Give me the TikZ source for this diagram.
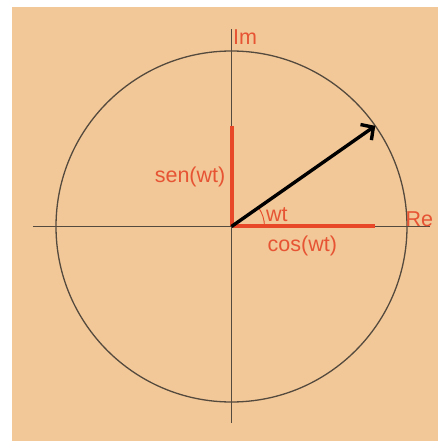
\documentclass[tikz,border=0pt]{standalone}
\usepackage{fontspec}
\setmainfont{Liberation Sans}
\usepackage{tikz}
\usepackage{xcolor}
\usetikzlibrary{arrows.meta, positioning, calc}

\definecolor{peach}{RGB}{242,200,152}
\definecolor{axisgray}{RGB}{85,74,62}
\definecolor{phasorred}{RGB}{232,72,40}
\definecolor{labelred}{RGB}{230,84,52}

\begin{document}
\begin{tikzpicture}[x=1pt, y=1pt,
    axis/.style={draw=axisgray, line width=1.3pt},
    redline/.style={draw=phasorred, line width=4pt},
    lbl/.style={text=labelred, inner sep=0pt, font=\fontsize{21.5}{25}\selectfont}]
    % =========================================================
    % CANVAS AND BACKGROUND PANEL
    % =========================================================
    \useasboundingbox (-231.5,-214.5) rectangle (206.5,226.5);
    \fill[white] (-231.5,-214.5) rectangle (206.5,226.5);
    \fill[peach] (-219.5,-214.5) rectangle (206.5,219.5);

    % =========================================================
    % AXES AND UNIT CIRCLE
    % =========================================================
    \coordinate (O) at (0,0);
    \coordinate (reL) at (-198.5,0);
    \coordinate (reR) at (198.5,0);
    \coordinate (imB) at (0,-196.5);
    \coordinate (imT) at (0,197.5);
    \draw[axis] (reL) -- (reR);
    \draw[axis] (imB) -- (imT);
    \draw[axis] (O) circle (175.5);

    \node[lbl, anchor=base west] (im) at (1.5,181.5) {Im};
    \node[lbl, anchor=base west] (re) at (174,0) {Re};

    % =========================================================
    % PROJECTIONS, ANGLE AND ROTATING PHASOR
    % =========================================================
    \coordinate (cosend) at (143.5,0);
    \coordinate (sinend) at (0,100.8);
    \coordinate (tip) at (35:175.5);
    \draw[redline] (O) -- (sinend);
    \draw[redline] (O) -- (cosend);
    \draw[phasorred, line width=0.9pt] (O) ++(33,0) arc (0:35:33);
    \draw[line width=3.4pt, -{Straight Barb[length=9pt, width=19pt]}] (O) -- (tip);

    \node[lbl, anchor=base east] (sen) at (-6,44) {sen(wt)};
    \node[lbl, anchor=base west] (cos) at (36,-24.5) {cos(wt)};
    \node[lbl, anchor=base west] (ang) at (34.5,5) {wt};
\end{tikzpicture}
\end{document}
